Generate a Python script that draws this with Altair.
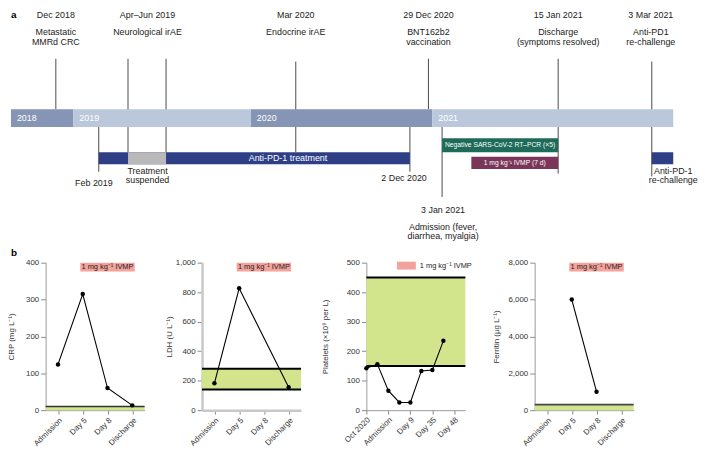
import altair as alt
import pandas as pd

# ---------------- panel a: schematic timeline (positions in schematic timeline units) ----
year_names = ["2018", "2019", "2020", "2021"]
year_from = [0, 64, 246, 432]
year_to = [64, 246, 432, 679]
year_tone = ["dark", "light", "dark", "light"]
year_lane = [106, 125]

period_kind = ["treatment", "suspended", "pcr", "ivmp", "treatment"]
period_from = [90, 120, 442, 472, 657]
period_to = [409, 159, 561, 561, 679]
period_top = [152, 152, 137, 157, 152]
period_bottom = [165, 165, 152, 170, 165]

bar_label_text = ["Anti-PD-1 treatment"]
bar_label_x = [284]
bar_label_y = [158.5]
small_label_text = ["Negative SARS-CoV-2 RT–PCR (×5)", "1 mg kg⁻¹ IVMP (7 d)"]
small_label_x = [501.5, 516.5]
small_label_y = [144.5, 163.5]

marker_x = [46, 120, 159, 292, 428, 561, 657, 90, 409, 442]
marker_from = [52, 52, 52, 55, 52, 52, 55, 125, 125, 125]
marker_to = [106, 152, 152, 152, 106, 175, 178, 173, 173, 200]

top_x = [46, 140, 292, 428, 561, 656]
top_date = ["Dec 2018", "Apr–Jun 2019", "Mar 2020", "29 Dec 2020", "15 Jan 2021", "3 Mar 2021"]
top_desc1 = ["Metastatic", "Neurological irAE", "Endocrine irAE", "BNT162b2", "Discharge", "Anti-PD1"]
top_desc2 = ["MMRd CRC", "", "", "vaccination", "(symptoms resolved)", "re-challenge"]
top_rows = [5, 23, 34]

note_text = ["Feb 2019", "Treatment", "suspended", "2 Dec 2020", "3 Jan 2021",
             "Admission (fever,", "diarrhea, myalgia)", "Anti-PD-1", "re-challenge"]
note_x = [85, 140, 140, 403, 443, 443, 443, 679, 679]
note_y = [185, 172, 182, 180, 214, 232, 242, 172, 182]

panel_letters = ["a", "b"]
panel_letter_y = [0, 255]

# ---------------- panel b: laboratory values ----------------
lab_days = ["Admission", "Day 5", "Day 8", "Discharge"]
crp_days = ["Admission", "Day 5", "Day 8", "Discharge"]
crp_vals = [124, 315, 60, 13]
crp_normal = [0, 10]
ldh_days = ["Admission", "Day 5", "Discharge"]
ldh_vals = [182, 826, 155]
ldh_normal = [140, 280]
plt_slots = ["Oct 2020", "s1", "Admission", "s3", "Day 9", "s5", "Day 35", "s7", "Day 48", "s9"]
plt_tick_labels = ["Oct 2020", "Admission", "Day 9", "Day 35", "Day 48"]
plt_sample_slots = ["Oct 2020", "s1", "Admission", "s3", "Day 9", "s5", "Day 35", "s7"]
plt_vals = [142, 156, 66, 26, 26, 133, 136, 235]
plt_normal = [150, 450]
fer_days = ["Day 5", "Day 8"]
fer_vals = [6000, 1000]
fer_normal = [0, 300]
ivmp_label = "1 mg kg⁻¹ IVMP"
ivmp_day = "Day 8"

GREEN = "#d2e58c"
PINK = "#f4a29c"
TXT = "#222222"

# ================= timeline chart =================
LEFT = 35          # the lower row's axes reach this far left of its plot origin
TW, TH = 634, 249
tx = alt.Scale(domain=[0, 679], nice=False, zero=False, range=[-LEFT, TW])
ty = alt.Scale(domain=[0, 264], nice=False, zero=False, reverse=True)


def X(f):
    return alt.X(f, type="quantitative", scale=tx, axis=None)


def Y(f):
    return alt.Y(f, type="quantitative", scale=ty, axis=None)


markers = alt.Chart(pd.DataFrame({"x": marker_x, "y": marker_from, "y2": marker_to})).mark_rule(
    color="#4a4a4a", strokeWidth=1).encode(x=X("x"), y=Y("y"), y2="y2")

years_df = pd.DataFrame({"name": year_names, "x": year_from, "x2": year_to, "tone": year_tone,
                         "y": [year_lane[0]] * 4, "y2": [year_lane[1]] * 4})
years = alt.Chart(years_df).mark_rect().encode(
    x=X("x"), x2="x2", y=Y("y"), y2="y2",
    fill=alt.Fill("tone:N", scale=alt.Scale(domain=["dark", "light"], range=["#8694b5", "#bbc8dc"]), legend=None))
year_text = alt.Chart(years_df.assign(ym=(years_df.y + years_df.y2) / 2)).mark_text(
    align="left", baseline="middle", dx=6, fontSize=9, color="white").encode(x=X("x"), y=Y("ym"), text="name:N")

periods_df = pd.DataFrame({"kind": period_kind, "x": period_from, "x2": period_to,
                           "y": period_top, "y2": period_bottom})
periods = alt.Chart(periods_df).mark_rect().encode(
    x=X("x"), x2="x2", y=Y("y"), y2="y2",
    color=alt.Color("kind:N", scale=alt.Scale(domain=["treatment", "suspended", "pcr", "ivmp"],
                                              range=["#2f3f86", "#b9b9b9", "#1d6b58", "#7a3558"]), legend=None))
bar_text = alt.Chart(pd.DataFrame({"t": bar_label_text, "x": bar_label_x, "y": bar_label_y})).mark_text(
    fontSize=9, color="white", baseline="middle").encode(x=X("x"), y=Y("y"), text="t:N")
small_text = alt.Chart(pd.DataFrame({"t": small_label_text, "x": small_label_x, "y": small_label_y})).mark_text(
    fontSize=6.8, color="white", baseline="middle").encode(x=X("x"), y=Y("y"), text="t:N")

top_rows_df = []
for i, xv in enumerate(top_x):
    for row_y, txt in zip(top_rows, [top_date[i], top_desc1[i], top_desc2[i]]):
        if txt:
            top_rows_df.append({"x": xv, "y": row_y, "t": txt})
top_text = alt.Chart(pd.DataFrame(top_rows_df)).mark_text(
    fontSize=9, color=TXT, baseline="middle").encode(x=X("x"), y=Y("y"), text="t:N")
note_texts = alt.Chart(pd.DataFrame({"t": note_text, "x": note_x, "y": note_y})).mark_text(
    fontSize=9, color=TXT, baseline="middle").encode(x=X("x"), y=Y("y"), text="t:N")
letters = alt.Chart(pd.DataFrame({"t": panel_letters, "x": [0, 0], "y": panel_letter_y})).mark_text(
    fontSize=10, fontWeight="bold", color="black", align="left", baseline="top").encode(
    x=X("x"), y=Y("y"), text="t:N")

timeline = alt.layer(markers, years, periods, year_text, bar_text, small_text, top_text,
                     note_texts, letters).resolve_scale(color="independent", fill="independent").properties(
    width=TW, height=TH)

# ================= lab panels =================
PW, PH = 100, 149
BOX = "M-1,-0.1636H1V0.1636H-1Z"
SWATCH = "M-1,-0.42H1V0.42H-1Z"


def yaxis(title, values, tp, dcol="#9a9a9a", dw=1):
    return alt.Axis(title=title, values=values, format=",d", grid=False, tickSize=5, tickColor="#8a8a8a",
                    domainColor=dcol, domainWidth=dw, labelFontSize=8, labelColor="#333", labelPadding=2,
                    titleFontSize=8, titleFontWeight="normal", titleColor="#333", titlePadding=tp,
                    minExtent=28, maxExtent=28)


def xaxis(dcol="#9a9a9a", dw=1, **kw):
    return alt.Axis(title=None, labelAngle=-45, labelFontSize=8, labelColor="#333", tickSize=4,
                    tickColor="#8a8a8a", domainColor=dcol, domainWidth=dw, labelPadding=2, grid=False,
                    labelOverlap=False, labelFlush=False, **kw)


def base_layers(normal, edges, edge_color, edge_w, ysc, yax):
    band = alt.Chart(pd.DataFrame({"lo": [normal[0]], "hi": [normal[1]]})).mark_rect(color=GREEN).encode(
        x=alt.value(0), x2=alt.value(PW), y=alt.Y("lo:Q", scale=ysc, axis=yax), y2="hi:Q")
    rules = alt.Chart(pd.DataFrame({"v": edges})).mark_rule(color=edge_color, strokeWidth=edge_w).encode(
        x=alt.value(0), x2=alt.value(PW), y=alt.Y("v:Q", scale=ysc, axis=yax))
    return [band, rules]


def cat_panel(days, vals, normal, edges, edge_color, edge_w, ydom, yvals, title, tp, dcol="#9a9a9a", dw=1):
    ysc = alt.Scale(domain=ydom, nice=False)
    yax = yaxis(title, yvals, tp, dcol, dw)
    xenc = alt.X("day:N", scale=alt.Scale(type="point", domain=lab_days, padding=0.5), axis=xaxis(dcol, dw))
    df = pd.DataFrame({"day": days, "v": vals, "i": list(range(len(days)))})
    line = alt.Chart(df).mark_line(color="black", strokeWidth=1.1).encode(
        x=xenc, y=alt.Y("v:Q", scale=ysc, axis=yax), order="i:Q")
    pts = alt.Chart(df).mark_point(filled=True, color="black", size=20, opacity=1).encode(
        x=xenc, y=alt.Y("v:Q", scale=ysc, axis=yax))
    note_df = pd.DataFrame({"day": [ivmp_day], "label": [ivmp_label]})
    box = alt.Chart(note_df).mark_point(shape=BOX, size=3025, filled=True, color=PINK, opacity=1,
                                        strokeWidth=0).encode(x=xenc, y=alt.value(4.5))
    note = alt.Chart(note_df).mark_text(fontSize=7.5, color=TXT, baseline="middle").encode(
        x=xenc, y=alt.value(4.5), text="label:N")
    return alt.layer(*base_layers(normal, edges, edge_color, edge_w, ysc, yax), line, pts, box, note).properties(
        width=PW, height=PH)


crp = cat_panel(crp_days, crp_vals, crp_normal, [crp_normal[1]], "#333", 1.5, [0, 400],
                [0, 100, 200, 300, 400], "CRP (mg L⁻¹)", 2)
ldh = cat_panel(ldh_days, ldh_vals, ldh_normal, ldh_normal, "black", 2, [0, 1000],
                [0, 200, 400, 600, 800, 1000], "LDH (U L⁻¹)", 1, dcol="#c8c8c8", dw=2.5)
fer = cat_panel(fer_days, fer_vals, fer_normal, [fer_normal[1]], "#444", 2, [0, 8000],
                [0, 2000, 4000, 6000, 8000], "Ferritin (µg L⁻¹)", 7)

# platelets: ticks from the axis, tick labels drawn as text through the same x scale
p_ysc = alt.Scale(domain=[0, 500], nice=False)
p_yax = yaxis("Platelets (×10⁹ per L)", [0, 100, 200, 300, 400, 500], 9)
p_xenc = alt.X("slot:N", scale=alt.Scale(type="point", domain=plt_slots, padding=0),
               axis=xaxis(values=plt_tick_labels, labels=False))
p_df = pd.DataFrame({"slot": plt_sample_slots, "v": plt_vals, "i": list(range(len(plt_vals)))})
p_line = alt.Chart(p_df).mark_line(color="black", strokeWidth=1.1).encode(
    x=p_xenc, y=alt.Y("v:Q", scale=p_ysc, axis=p_yax), order="i:Q")
p_pts = alt.Chart(p_df).mark_point(filled=True, color="black", size=20, opacity=1).encode(
    x=p_xenc, y=alt.Y("v:Q", scale=p_ysc, axis=p_yax))
tick_df = pd.DataFrame({"slot": plt_tick_labels, "label": plt_tick_labels})
p_ticklabels = alt.Chart(tick_df).mark_text(fontSize=8, color="#333", angle=315, align="right",
                                            baseline="top").encode(
    x=p_xenc, y=alt.value(PH + 6), text="label:N")
leg_df = pd.DataFrame({"label": [ivmp_label]})
p_swatch = alt.Chart(leg_df).mark_point(shape=SWATCH, size=361, filled=True, color=PINK, opacity=1,
                                        strokeWidth=0).encode(x=alt.value(40.5), y=alt.value(3))
p_leg = alt.Chart(leg_df).mark_text(fontSize=7.5, color=TXT, align="left", baseline="middle").encode(
    x=alt.value(54), y=alt.value(3), text="label:N")
plt = alt.layer(*base_layers(plt_normal, plt_normal, "black", 2, p_ysc, p_yax), p_line, p_pts,
                p_ticklabels, p_swatch, p_leg).properties(width=PW, height=PH)

row = alt.hconcat(crp, ldh, plt, fer, spacing=20)

chart = alt.vconcat(timeline, row, spacing=0).properties(padding=0).configure(
    font="Liberation Sans").configure_view(stroke=None)

chart.save("out.html", embed_options={"renderer": "svg", "actions": False})
